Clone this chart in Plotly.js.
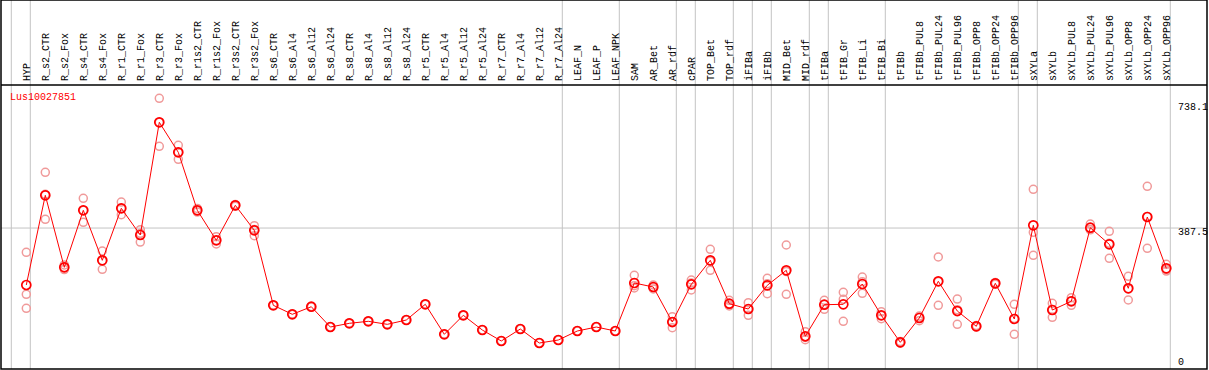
<!DOCTYPE html>
<html>
<head>
<meta charset="utf-8">
<script src="https://cdn.plot.ly/plotly-3.0.1.min.js"></script>
<style>html,body{margin:0;padding:0;background:#fff;}#chart{width:1209px;height:370px;}</style>
</head>
<body>
<div id="chart"></div>
<script>
const categories = ["HYP","R_s2_CTR","R_s2_Fox","R_s4_CTR","R_s4_Fox","R_r1_CTR","R_r1_Fox","R_r3_CTR","R_r3_Fox","R_r1s2_CTR","R_r1s2_Fox","R_r3s2_CTR","R_r3s2_Fox","R_s6_CTR","R_s6_Al4","R_s6_Al12","R_s6_Al24","R_s8_CTR","R_s8_Al4","R_s8_Al12","R_s8_Al24","R_r5_CTR","R_r5_Al4","R_r5_Al12","R_r5_Al24","R_r7_CTR","R_r7_Al4","R_r7_Al12","R_r7_Al24","LEAF_N","LEAF_P","LEAF_NPK","SAM","AR_Bet","AR_rdf","cPAR","TOP_Bet","TOP_rdf","iFIBa","iFIBb","MID_Bet","MID_rdf","tFIBa","tFIB_Gr","tFIB_Li","tFIB_Bi","tFIBb","tFIBb_PUL8","tFIBb_PUL24","tFIBb_PUL96","tFIBb_OPP8","tFIBb_OPP24","tFIBb_OPP96","sXYLa","sXYLb","sXYLb_PUL8","sXYLb_PUL24","sXYLb_PUL96","sXYLb_OPP8","sXYLb_OPP24","sXYLb_OPP96"];

const meanValues = [229.0,478.6,278.2,436.8,297.7,442.4,368.1,681.7,598.2,436.8,353.4,450.7,381.2,172.5,147.5,168.6,112.1,122.4,128.0,119.6,131.6,175.3,91.8,144.7,103.8,73.2,106.6,67.6,76.0,101.0,112.1,101.0,234.6,223.4,126.0,230.9,297.7,177.0,162.2,228.2,269.9,86.3,174.2,175.3,231.8,144.7,69.6,137.2,239.3,156.6,114.1,233.7,134.4,395.1,159.4,183.6,388.4,342.2,219.8,418.2,275.5];

const rep1 = [320.0,542.6,272.0,470.2,323.6,459.9,382.9,748.5,617.7,442.0,363.4,448.0,394.0,172.5,147.5,168.6,112.1,122.4,128.0,119.6,131.6,175.3,91.8,144.7,103.8,73.2,106.6,67.6,76.0,101.0,112.1,101.0,256.0,229.0,140.8,242.9,328.3,186.4,179.7,247.6,340.3,99.1,186.4,208.7,251.3,154.7,67.0,142.7,306.9,190.0,112.0,231.0,175.3,495.3,178.1,193.7,398.7,378.4,253.2,503.6,286.6];
const rep2 = [203.1,411.8,278.0,403.4,272.7,424.6,348.6,614.9,578.7,436.0,343.1,453.0,366.2,172.5,147.5,168.6,112.1,122.4,128.0,119.6,131.6,175.3,91.8,144.7,103.8,73.2,106.6,67.6,76.0,101.0,112.1,101.0,227.0,223.0,110.2,215.1,269.9,170.6,144.7,204.8,203.1,76.8,161.4,128.0,205.9,135.2,70.0,129.7,172.5,119.6,114.0,234.0,91.8,375.6,139.1,172.5,384.0,303.3,187.3,331.1,267.9];
const rep3 = [164.2,481.4,285.0,436.8,296.8,442.7,372.8,681.7,598.2,432.0,353.7,451.0,383.4,172.5,147.5,168.6,112.1,122.4,128.0,119.6,131.6,175.3,91.8,144.7,103.8,73.2,106.6,67.6,76.0,101.0,112.1,101.0,220.8,218.0,127.0,234.7,294.9,174.0,162.2,232.2,266.3,83.0,174.8,189.2,238.2,144.2,72.0,139.2,238.5,160.2,116.0,236.0,136.1,311.6,161.0,184.6,382.5,344.9,218.9,419.9,272.0];

// group separators (after these category indices)
const separatorsAfter = [-1,0,28,31,34,35,37,38,39,41,42,45,52,53,60];
const yTickValues = [738.1, 387.5, 0];
const yTickLabels = ["738.1", "387.5", "0"];
const geneName = "Lus10027851";

const idx = categories.map((c,i)=>i);
const repX = [], repY = [];
[rep1, rep2, rep3].forEach(r => r.forEach((v,i)=>{ repX.push(i); repY.push(v); }));

const FONT = "Liberation Mono, DejaVu Sans Mono, monospace";
const topPaper = 369/284;

const shapes = [];
separatorsAfter.forEach(s => {
  shapes.push({type:'line', xref:'x', yref:'paper', x0:s+4/19, x1:s+4/19, y0:0, y1:topPaper,
    line:{color:'#c4c4c4', width:1}, layer:'below'});
});
shapes.push({type:'line', xref:'paper', yref:'y', x0:0, x1:1, y0:387.5, y1:387.5,
  line:{color:'#c4c4c4', width:1}, layer:'below'});
shapes.push({type:'rect', xref:'paper', yref:'paper', x0:0, x1:1, y0:0, y1:topPaper,
  line:{color:'#000', width:1.5}, fillcolor:'rgba(0,0,0,0)'});
shapes.push({type:'line', xref:'paper', yref:'paper', x0:0, x1:1, y0:1, y1:1,
  line:{color:'#000', width:1.5}});

const shifts = [-5, -4, 5];
const annotations = yTickValues.map((v,k)=>({
  xref:'paper', yref:'y', x:(1176-1)/1206, y:v, xanchor:'left', yanchor:'middle', yshift:shifts[k],
  text:yTickLabels[k], showarrow:false, font:{family:FONT, size:10, color:'#000'}
}));
annotations.push({xref:'paper', yref:'paper', x:0.006, y:(369-97)/284, xanchor:'left', yanchor:'middle',
  text:geneName, showarrow:false, font:{family:FONT, size:10, color:'#ff0000'}});

const traces = [
  {x:repX, y:repY, type:'scatter', mode:'markers', hoverinfo:'skip',
   marker:{symbol:'circle-open', size:8, color:'#f09a9a', line:{width:1.5, color:'#f09a9a'}}},
  {x:idx, y:meanValues, type:'scatter', mode:'lines+markers',
   line:{color:'#ff0000', width:1},
   marker:{symbol:'circle-open', size:9, color:'#ff0000', line:{width:1.7, color:'#ff0000'}}}
];

const layout = {
  width:1209, height:370,
  margin:{l:1, r:2, t:85, b:1, pad:0},
  paper_bgcolor:'#fff', plot_bgcolor:'#fff',
  showlegend:false,
  xaxis:{range:[-1.3316, 62.142], side:'top', tickmode:'array', tickvals:idx, ticktext:categories,
    tickangle:-90, ticks:'', showgrid:false, zeroline:false, showline:false, automargin:false,
    ticklabelstandoff:3,
    tickfont:{family:FONT, size:10, color:'#000'}},
  yaxis:{range:[-4.7, 785.5], showgrid:false, zeroline:false, showticklabels:false, ticks:'', showline:false, automargin:false},
  shapes:shapes, annotations:annotations
};
Plotly.newPlot('chart', traces, layout, {staticPlot:true, displayModeBar:false});
</script>
</body>
</html>
